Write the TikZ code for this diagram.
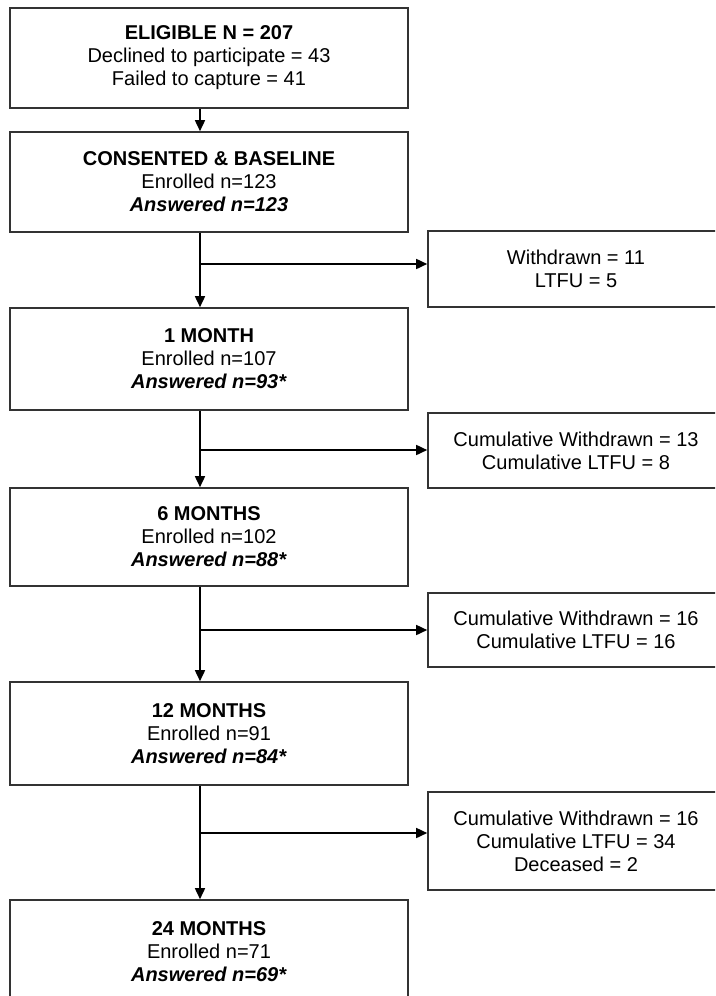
\documentclass[tikz,border=0pt]{standalone}
\usepackage{fontspec}
\setmainfont{Liberation Sans}
\usetikzlibrary{arrows.meta}

\begin{document}
\begin{tikzpicture}[x=1pt,y=-1pt,font=\fontsize{20}{23}\selectfont,
 box/.style={draw=black!80,line width=1.6pt,align=center,inner sep=0pt,minimum width=398pt},
 side/.style={box,minimum width=296pt},
 flow/.style={line width=1.6pt,-{Triangle[length=11pt,width=10pt]}}]
\useasboundingbox (0,0) rectangle (715,996);
\clip (0,0) rectangle (715,996);
\coordinate (axis) at (200,0);
\node[box,minimum height=100pt] (elig) at (209,58) {\textbf{ELIGIBLE N = 207}\\Declined to participate = 43\\Failed to capture = 41};
\node[box,minimum height=100pt] (cons) at (209,182) {\textbf{CONSENTED \& BASELINE}\\Enrolled n=123\\\textbf{\textit{Answered n=123}}};
\node[box,minimum height=102pt] (m1) at (209,359) {\textbf{1 MONTH}\\Enrolled n=107\\\textbf{\textit{Answered n=93*}}};
\node[box,minimum height=98pt] (m6) at (209,537) {\textbf{6 MONTHS}\\Enrolled n=102\\\textbf{\textit{Answered n=88*}}};
\node[box,minimum height=103pt] (m12) at (209,733.5) {\textbf{12 MONTHS}\\Enrolled n=91\\\textbf{\textit{Answered n=84*}}};
\node[box,minimum height=103pt] (m24) at (209,951.5) {\textbf{24 MONTHS}\\Enrolled n=71\\\textbf{\textit{Answered n=69*}}};
\node[side,minimum height=76pt] (w1) at (576,269) {Withdrawn = 11\\LTFU = 5};
\node[side,minimum height=75pt] (w2) at (576,450.5) {Cumulative Withdrawn = 13\\Cumulative LTFU = 8};
\node[side,minimum height=74pt] (w3) at (576,630) {Cumulative Withdrawn = 16\\Cumulative LTFU = 16};
\node[side,minimum height=98pt] (w4) at (576,841) {Cumulative Withdrawn = 16\\Cumulative LTFU = 34\\Deceased = 2};
\coordinate (b1) at (200,264);
\coordinate (b2) at (200,450);
\coordinate (b3) at (200,630);
\coordinate (b4) at (200,833);
\draw[flow] (elig.south -| axis) -- (cons.north -| axis);
\draw[flow] (cons.south -| axis) -- (m1.north -| axis);
\draw[flow] (m1.south -| axis) -- (m6.north -| axis);
\draw[flow] (m6.south -| axis) -- (m12.north -| axis);
\draw[flow] (m12.south -| axis) -- (m24.north -| axis);
\draw[flow] (b1) -- (b1 -| w1.west);
\draw[flow] (b2) -- (b2 -| w2.west);
\draw[flow] (b3) -- (b3 -| w3.west);
\draw[flow] (b4) -- (b4 -| w4.west);
\end{tikzpicture}
\end{document}
